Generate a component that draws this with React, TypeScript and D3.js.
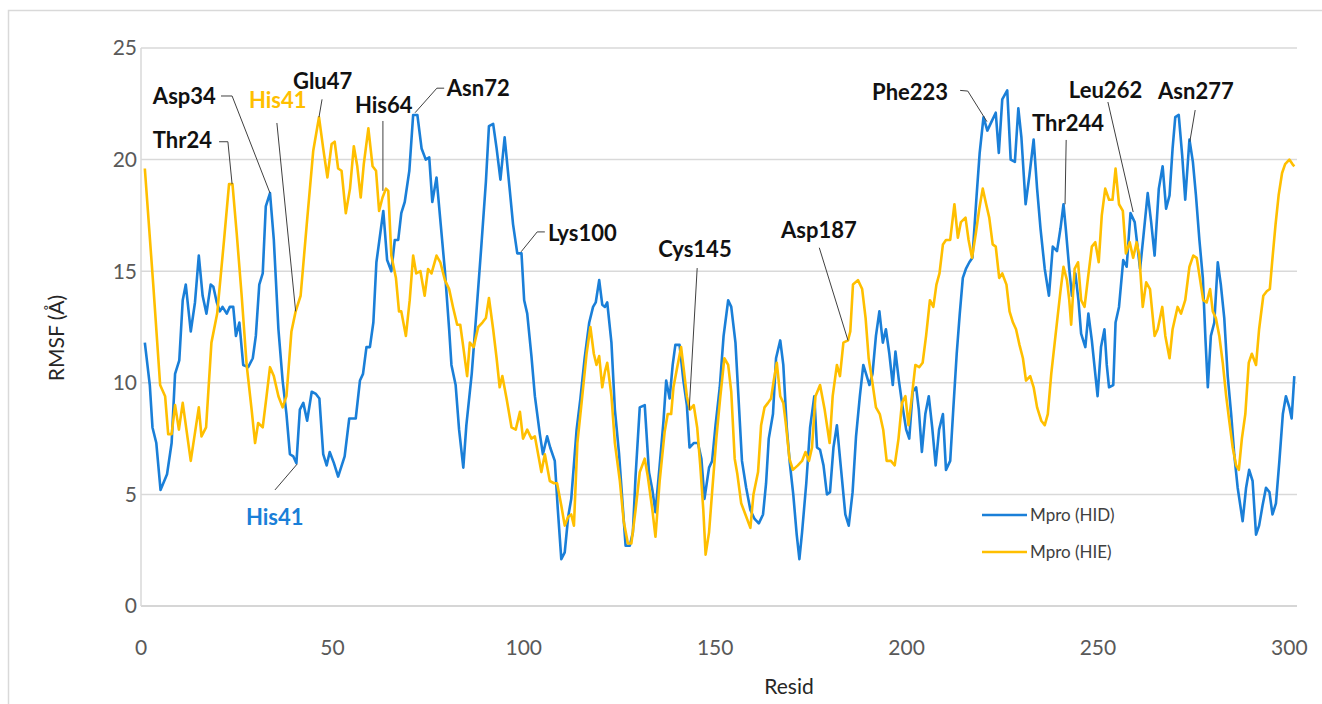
import React from "react";
import * as d3 from "d3";

// ---------- data ----------
const hidResid = [1.0,2.3,3.0,4.0,5.1,6.8,8.0,8.9,10.0,10.9,11.7,13.0,14.1,15.1,16.1,17.1,18.2,18.9,19.8,20.6,21.3,22.4,23.2,24.1,24.8,25.7,26.7,28.0,29.2,30.0,30.9,31.8,32.6,33.7,34.7,35.9,37.0,38.0,38.9,39.8,40.6,41.5,42.4,43.4,44.6,45.7,46.6,47.6,48.5,49.3,50.4,51.5,53.2,54.4,56.1,57.2,58.0,58.9,59.8,60.7,61.5,63.3,64.3,65.4,66.3,67.2,68.0,68.9,70.1,71.1,72.2,73.3,74.4,75.3,76.1,77.2,78.3,79.4,80.5,81.1,82.2,83.1,84.2,85.0,86.4,87.6,88.9,90.1,90.9,92.0,92.9,93.9,95.0,96.3,97.2,98.3,99.4,100.1,100.9,102.0,102.9,104.2,105.0,106.1,106.9,108.1,108.9,109.8,110.7,111.6,112.4,113.8,114.8,115.9,117.1,118.1,118.8,119.7,120.5,121.2,121.8,122.9,123.8,124.9,125.8,126.6,127.7,128.5,129.2,130.3,131.6,132.7,133.6,134.4,135.5,136.5,137.2,138.1,138.9,139.6,140.7,141.7,142.6,143.3,144.4,145.5,146.4,147.2,148.4,149.2,150.1,151.2,152.2,153.4,154.2,155.3,156.2,157.0,158.1,159.2,160.3,161.4,162.5,163.3,164.0,165.1,165.9,167.0,167.8,168.7,169.5,170.4,171.3,172.0,172.7,173.8,174.8,175.9,176.6,177.4,178.3,179.2,180.0,180.9,181.8,182.9,184.0,184.9,185.9,186.8,187.8,188.7,189.6,190.3,191.1,192.0,192.9,193.8,194.6,195.5,196.4,197.1,198.0,198.8,199.9,200.7,201.6,202.5,203.2,204.0,204.9,205.8,206.7,207.6,208.5,209.5,210.3,211.4,212.2,213.1,213.9,214.7,215.5,216.4,217.2,218.3,219.1,220.1,221.1,222.2,223.3,224.1,225.0,226.3,227.2,228.3,229.2,230.0,231.1,232.1,233.2,234.1,235.0,236.1,237.2,238.2,239.3,240.2,241.0,241.6,242.5,243.2,244.1,244.9,245.6,246.7,247.5,248.4,249.3,249.9,250.8,251.7,252.3,252.9,254.0,254.6,255.5,256.6,257.5,258.5,259.6,261.0,261.9,263.0,263.9,264.8,265.9,266.9,267.8,268.7,269.5,270.2,271.1,272.0,272.8,273.9,274.8,275.6,276.5,277.4,278.1,278.7,279.5,280.4,281.3,282.1,283.0,283.9,284.8,285.6,286.5,287.8,288.7,289.5,290.4,291.3,292.1,293.0,293.9,294.8,295.6,296.5,297.4,298.3,299.1,300.0,300.6,301.3];
const hidRmsf = [11.8,9.9,8.0,7.3,5.2,5.9,7.3,10.4,11.0,13.7,14.4,12.3,13.6,15.7,13.9,13.1,14.4,14.3,13.6,13.2,13.4,13.1,13.4,13.4,12.1,12.7,10.8,10.7,11.1,12.1,14.4,14.9,17.9,18.5,16.4,12.4,10.1,8.6,6.8,6.7,6.4,8.8,9.1,8.3,9.6,9.5,9.3,6.8,6.3,6.9,6.4,5.8,6.7,8.4,8.4,10.1,10.4,11.6,11.6,12.7,15.4,17.7,15.5,15.0,16.4,16.4,17.6,18.1,19.5,22.0,22.0,20.5,20.0,20.1,18.1,19.2,17.1,15.0,12.4,10.8,9.9,7.9,6.2,8.1,10.4,13.1,16.1,19.0,21.5,21.6,20.5,19.1,21.0,18.7,17.1,15.8,15.8,13.7,13.1,11.2,9.4,7.7,6.8,7.6,7.1,6.5,4.3,2.1,2.4,4.0,4.8,7.9,9.3,11.1,12.7,13.4,13.6,14.6,13.5,13.4,13.6,11.8,8.8,6.8,4.6,2.7,2.7,3.3,5.8,8.9,9.0,6.0,5.2,4.2,6.3,8.3,10.1,9.3,10.8,11.7,11.7,10.1,9.0,7.1,7.3,7.3,6.6,4.8,6.2,6.5,8.1,9.8,12.1,13.7,13.4,11.8,9.0,6.5,5.3,4.3,3.9,3.7,4.1,5.5,7.5,8.6,11.1,11.9,10.8,8.0,6.4,5.0,3.2,2.1,3.3,5.5,8.0,9.4,7.1,7.0,6.3,5.0,5.1,7.1,8.1,6.1,4.1,3.6,5.1,7.6,9.4,10.8,10.3,9.9,10.4,12.1,13.2,11.8,12.4,11.3,9.9,11.4,10.1,9.1,7.9,7.5,9.6,9.8,8.8,6.9,8.6,9.4,8.0,6.3,7.9,8.6,6.1,6.5,8.8,11.3,13.1,14.7,15.1,15.4,15.6,18.4,20.3,21.9,21.3,21.7,22.1,20.3,22.7,23.1,20.0,19.9,22.3,21.0,18.0,19.3,20.9,18.7,16.9,15.1,13.9,16.1,15.9,16.9,18.0,16.9,15.1,13.9,14.9,13.7,12.2,11.6,13.1,11.9,10.4,9.4,11.6,12.4,10.8,9.8,9.9,12.7,13.4,15.5,15.2,17.6,17.2,15.1,16.6,18.5,17.2,15.7,18.7,19.7,17.8,18.4,20.5,21.9,22.0,20.2,18.2,20.9,19.9,18.4,16.4,14.7,11.9,9.8,12.1,12.7,15.4,14.4,12.9,10.3,8.6,6.8,5.3,3.8,5.3,6.1,5.6,3.2,3.6,4.5,5.3,5.1,4.1,4.6,6.5,8.6,9.4,8.9,8.4,10.3];

const hieResid = [1.0,3.2,5.0,6.3,7.1,8.0,8.9,9.9,10.9,13.0,15.1,15.8,17.0,18.4,19.9,21.7,23.0,23.9,25.0,26.3,27.6,28.9,29.8,30.6,31.8,32.8,33.7,34.7,35.9,37.0,38.0,39.3,40.4,41.7,43.3,45.0,46.5,47.6,48.7,49.8,50.6,51.5,52.4,53.5,54.6,55.6,56.5,57.4,58.2,59.4,60.5,61.4,62.2,63.1,64.0,64.6,65.4,66.6,67.4,68.0,69.2,70.2,71.1,71.9,73.0,74.1,75.0,75.9,77.2,78.2,79.4,80.5,81.5,82.6,83.4,84.2,85.2,85.9,86.9,88.1,89.2,90.1,90.9,92.0,92.9,93.7,94.4,95.5,96.8,97.9,99.0,99.8,100.9,102.0,102.9,104.6,105.5,106.8,107.9,108.7,109.8,110.7,111.6,112.4,113.1,114.0,115.1,116.4,117.4,118.3,119.0,119.7,120.5,121.2,121.8,122.9,123.8,125.1,126.1,127.2,128.1,129.2,130.3,131.6,132.4,133.6,134.4,135.5,136.8,137.6,138.5,139.1,140.2,141.1,141.8,142.6,143.4,144.4,145.3,146.1,146.9,147.5,148.4,149.2,150.3,151.3,152.4,153.4,154.2,155.1,155.8,156.8,157.9,159.2,160.0,161.2,162.0,162.9,163.8,164.6,165.3,166.1,167.0,167.8,168.5,169.4,170.3,171.6,172.7,173.6,174.5,175.3,176.2,177.4,178.6,179.9,180.7,181.8,182.6,183.5,184.7,185.3,186.0,187.3,188.4,189.3,190.1,191.0,192.0,193.0,193.9,194.8,195.9,196.9,197.9,198.8,199.7,200.5,201.4,202.3,203.3,204.2,205.1,206.1,207.0,207.8,208.6,209.5,210.3,211.4,212.5,213.4,214.2,215.4,216.2,217.1,218.1,219.0,219.9,220.8,221.6,222.5,223.3,224.2,225.0,226.1,226.9,227.8,228.6,229.5,230.4,231.2,232.3,233.2,234.1,235.2,236.1,236.9,237.8,238.9,240.2,241.0,241.9,242.5,243.0,243.9,244.8,245.6,246.5,247.4,248.4,249.3,250.2,251.0,251.9,252.9,253.8,254.6,255.5,256.5,257.3,258.3,259.2,260.1,260.8,261.7,262.6,263.6,264.8,265.6,266.8,267.6,268.7,269.5,270.8,271.7,272.8,273.9,274.9,275.8,276.7,277.5,278.4,279.3,280.0,280.8,281.7,282.6,283.5,284.3,285.2,286.1,286.8,287.6,288.5,289.4,290.2,291.3,292.1,293.2,294.1,294.9,295.5,296.4,297.2,298.1,298.9,300.0,300.8,301.3];
const hieRmsf = [19.6,14.4,9.9,9.4,7.7,7.7,9.0,7.9,9.1,6.5,8.9,7.6,8.0,11.8,13.1,16.4,18.9,18.9,16.7,13.9,10.8,8.8,7.3,8.2,8.0,9.4,10.7,10.3,9.4,8.9,9.4,12.3,13.2,13.9,17.1,20.4,21.9,20.5,19.2,20.7,20.8,19.6,19.5,17.6,18.7,20.6,19.7,18.3,19.8,21.4,19.7,19.5,17.7,18.3,18.7,18.6,15.7,14.7,13.2,13.2,12.1,13.7,15.7,14.9,15.0,13.9,15.1,14.9,15.7,15.4,14.6,14.2,13.4,12.6,12.6,11.6,10.3,11.8,11.6,12.5,12.7,12.9,13.8,12.4,11.1,9.8,10.3,9.3,8.0,7.9,8.7,7.5,7.9,7.5,7.6,6.0,6.8,5.6,5.5,5.5,4.5,3.6,4.0,4.1,3.6,7.3,9.1,11.3,12.5,11.3,10.8,11.2,9.8,10.5,10.9,9.4,7.3,5.6,3.8,2.8,2.8,4.3,6.0,6.6,5.8,4.3,3.1,5.6,7.8,8.6,8.6,9.8,10.8,11.6,10.6,9.4,8.8,9.0,8.0,6.3,4.3,2.3,3.3,5.1,7.5,9.3,11.1,10.8,9.6,6.6,5.9,4.6,4.1,3.5,5.0,6.0,8.1,8.9,9.1,9.3,10.1,10.9,9.4,9.1,8.1,6.6,6.1,6.3,6.5,6.9,6.5,7.1,9.4,9.9,8.8,7.3,9.4,10.8,10.3,11.8,11.9,12.3,14.4,14.6,14.2,12.9,11.1,10.1,8.9,8.6,7.9,6.5,6.5,6.3,7.5,9.1,9.4,8.1,9.4,10.8,10.7,10.9,12.1,13.7,13.4,14.4,14.9,16.2,16.4,16.4,18.0,16.5,17.2,17.4,16.4,15.6,16.7,17.8,18.7,18.0,17.4,16.2,16.1,14.7,14.9,14.4,13.2,12.7,12.4,11.7,11.1,10.1,10.3,9.8,8.9,8.3,8.1,8.6,10.4,12.1,14.1,15.2,14.6,13.7,12.6,15.1,15.4,13.7,13.4,14.7,16.1,16.3,15.4,17.5,18.7,18.2,18.2,19.6,18.0,17.7,15.8,16.3,15.6,16.3,15.7,13.4,14.5,14.2,12.1,12.4,13.4,12.1,11.1,12.4,13.4,13.1,13.7,15.2,15.7,15.6,14.6,13.7,13.6,14.2,13.2,12.9,12.1,10.9,9.4,8.3,7.1,6.3,6.1,7.5,8.6,10.9,11.3,10.8,12.4,13.9,14.1,14.2,15.4,17.1,18.4,19.4,19.8,20.0,19.8,19.7];

const seriesNames = ["Mpro (HID)", "Mpro (HIE)"];
const xTicks = [0, 50, 100, 150, 200, 250, 300];
const yTicks = [0, 5, 10, 15, 20, 25];
const xTitle = "Resid";
const yTitle = "RMSF (Å)";

// annotations: label, colour key, text anchor [resid, rmsf], leader path [[resid, rmsf], ...]
const annLabels = ["Thr24","Asp34","His41","Glu47","His64","Asn72","Lys100","Cys145","Asp187","Phe223","Thr244","Leu262","Asn277","His41"];
const annKind = ["k","k","hie","k","k","k","k","k","k","k","k","k","k","hid"];
const annText: [number, number][] = [[3.1,20.5],[3.1,22.5],[28.2,22.3],[39.7,23.16],[55.9,22.09],[79.9,22.85],[106.3,16.35],[135.1,15.64],[167.2,16.5],[191.0,22.67],[232.8,21.28],[242.4,22.76],[265.7,22.72],[27.4,3.63]];
const annPath: [number, number][][] = [
  [[20.4,20.8],[22.7,20.8],[23.8,18.9]],
  [[20.9,22.85],[23.8,22.85],[33.7,18.5]],
  [[35.5,21.64],[40.4,13.2]],
  [[47.3,22.7],[46.5,21.9]],
  [[63.2,21.73],[63.2,18.6]],
  [[79.2,23.2],[77.3,23.2],[71.6,22.1]],
  [[105.5,16.76],[103.5,16.76],[99.3,15.87]],
  [[145.3,15.14],[143.2,8.78]],
  [[177.2,16.05],[184.7,11.9]],
  [[214.0,23.1],[216.0,23.07],[221.0,21.7]],
  [[241.7,20.88],[241.4,18.0]],
  [[252.6,22.58],[259.2,17.65]],
  [[275.4,22.22],[274.0,20.8]],
  [[35.0,5.2],[40.8,6.36]],
];

// ---------- layout ----------
const W = 1322, H = 704;
const left = 141, right = 1297, top = 48, bottom = 606;
const BLUE = "#1a7fd8";
const ORANGE = "#ffbf00";
const FONT = "Lato, 'Open Sans', sans-serif";

export default function App() {
  const x = d3.scaleLinear().domain([0, 302]).range([left, right]);
  const y = d3.scaleLinear().domain([0, 25]).range([bottom, top]);
  const line = d3.line<[number, number]>().x(d => x(d[0])).y(d => y(d[1]));
  const hid = hidResid.map((r, i) => [r, hidRmsf[i]] as [number, number]);
  const hie = hieResid.map((r, i) => [r, hieRmsf[i]] as [number, number]);
  const colorOf = (k: string) => (k === "hid" ? BLUE : k === "hie" ? ORANGE : "#111");

  return (
    <svg width={W} height={H} style={{ position: "absolute", left: 0, top: 0, background: "#fff" }} fontFamily={FONT}>
      <rect x={8.5} y={10.5} width={W + 10} height={H + 10} fill="none" stroke="#d9d9d9" strokeWidth={1.5} />
      {yTicks.map(t => (
        <line key={"g" + t} x1={left} x2={right} y1={y(t)} y2={y(t)} stroke={t === 0 ? "#c8c8c8" : "#d9d9d9"} strokeWidth={1.5} />
      ))}
      <line x1={left} x2={left} y1={top} y2={bottom} stroke="#d9d9d9" strokeWidth={1.5} />
      {yTicks.map(t => (
        <text key={"yt" + t} x={left - 4} y={y(t)} dy="0.35em" textAnchor="end" fontSize={21} fill="#595959">{t}</text>
      ))}
      {xTicks.map(t => (
        <text key={"xt" + t} x={x(t)} y={bottom + 49} textAnchor="middle" fontSize={21} fill="#595959">{t}</text>
      ))}
      <text x={(left + right) / 2 + 70} y={694} textAnchor="middle" fontSize={21} fill="#262626">{xTitle}</text>
      <text transform={`translate(64,338) rotate(-90)`} textAnchor="middle" fontSize={21} fill="#262626">{yTitle}</text>

      <path d={line(hid) || ""} fill="none" stroke={BLUE} strokeWidth={2.6} strokeLinejoin="round" />
      <path d={line(hie) || ""} fill="none" stroke={ORANGE} strokeWidth={2.6} strokeLinejoin="round" />

      {annLabels.map((lab, i) => (
        <g key={"a" + i}>
          <path d={line(annPath[i]) || ""} fill="none" stroke="#404040" strokeWidth={1} />
          <text x={x(annText[i][0])} y={y(annText[i][1])} fontSize={22} fontWeight="bold" fill={colorOf(annKind[i])}>{lab}</text>
        </g>
      ))}

      {seriesNames.map((n, i) => (
        <g key={"l" + i}>
          <line x1={982} x2={1027} y1={515 + i * 37} y2={515 + i * 37} stroke={i === 0 ? BLUE : ORANGE} strokeWidth={2.6} />
          <text x={1030} y={515 + i * 37} dy="0.35em" fontSize={17} fill="#404040">{n}</text>
        </g>
      ))}
    </svg>
  );
}
